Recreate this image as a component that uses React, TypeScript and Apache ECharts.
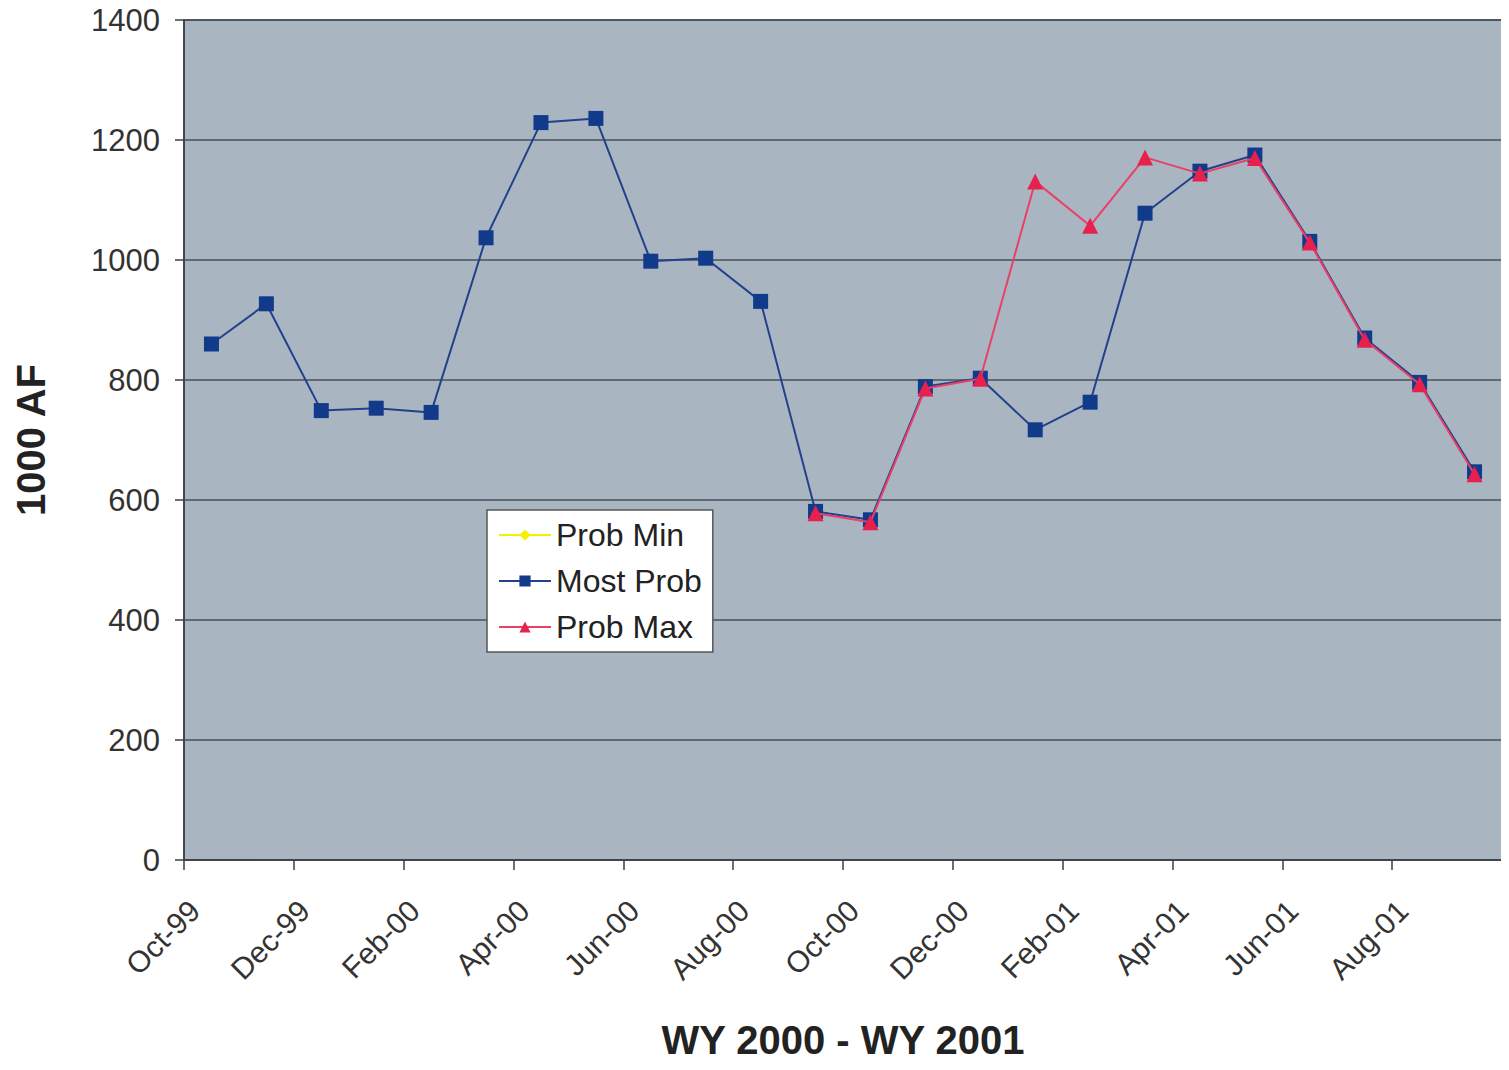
import React, { useEffect, useRef } from "react";
import * as echarts from "echarts";

const months = [
  "Oct-99", "Nov-99", "Dec-99", "Jan-00", "Feb-00", "Mar-00", "Apr-00", "May-00",
  "Jun-00", "Jul-00", "Aug-00", "Sep-00", "Oct-00", "Nov-00", "Dec-00", "Jan-01",
  "Feb-01", "Mar-01", "Apr-01", "May-01", "Jun-01", "Jul-01", "Aug-01", "Sep-01",
];

const tickLabels = [
  "Oct-99", "Dec-99", "Feb-00", "Apr-00", "Jun-00", "Aug-00",
  "Oct-00", "Dec-00", "Feb-01", "Apr-01", "Jun-01", "Aug-01",
];

const probMin: (number | null)[] = [
  null, null, null, null, null, null, null, null, null, null, null, null,
  null, null, null, null, null, null, null, null, null, null, null, null,
];

const mostProb: (number | null)[] = [
  860, 927, 749, 753, 746, 1037, 1229, 1236, 998, 1003, 931, 581,
  567, 789, 803, 717, 763, 1078, 1148, 1175, 1031, 870, 796, 647,
];

const probMax: (number | null)[] = [
  null, null, null, null, null, null, null, null, null, null, null, 578,
  563, 786, 802, 1131, 1057, 1171, 1144, 1170, 1029, 867, 793, 643,
];

const toPoints = (vals: (number | null)[]) =>
  months.map((m, i) => [i + 0.5, vals[i]]);

export default function App() {
  const ref = useRef<HTMLDivElement>(null);

  useEffect(() => {
    if (!ref.current) return;
    const chart = echarts.init(ref.current, undefined, { renderer: "svg" });
    const font = "'Liberation Sans', Arial, sans-serif";
    chart.setOption({
      animation: false,
      textStyle: { fontFamily: font },
      grid: {
        left: 184,
        right: 7,
        top: 20,
        bottom: 210,
        show: true,
        backgroundColor: "#a9b6c2",
        borderColor: "#3a3f44",
        borderWidth: 1.5,
      },
      legend: {
        orient: "vertical",
        left: 487,
        top: 510,
        padding: [9, 11, 9, 11],
        backgroundColor: "#ffffff",
        borderColor: "#555",
        borderWidth: 1.5,
        itemWidth: 52,
        itemHeight: 14,
        itemGap: 14,
        textStyle: { fontSize: 32, color: "#222", fontFamily: font },
        data: ["Prob Min", "Most Prob", "Prob Max"],
      },
      xAxis: {
        type: "value",
        min: 0,
        max: months.length,
        interval: 2,
        axisLine: { show: true, lineStyle: { color: "#3a3f44", width: 1.5 } },
        axisTick: { show: true, length: 10, lineStyle: { color: "#3a3f44", width: 1.5 } },
        splitLine: { show: false },
        axisLabel: {
          rotate: 45,
          margin: 35,
          verticalAlign: "top",
          fontSize: 30,
          color: "#333",
          fontFamily: font,
          formatter: (v: number) => tickLabels[Math.round(v / 2)] ?? "",
        },
        name: "WY 2000 - WY 2001",
        nameLocation: "middle",
        nameGap: 160,
        nameTextStyle: { fontSize: 40, fontWeight: "bold", color: "#222", fontFamily: font },
      },
      yAxis: {
        type: "value",
        min: 0,
        max: 1400,
        interval: 200,
        axisLine: { show: true, lineStyle: { color: "#3a3f44", width: 1.5 } },
        axisTick: { show: true, length: 9, lineStyle: { color: "#3a3f44", width: 1.5 } },
        splitLine: { show: true, lineStyle: { color: "#4a5158", width: 1.5 } },
        axisLabel: {
          fontSize: 31,
          color: "#333",
          margin: 24,
          fontFamily: font,
          formatter: (v: number) => String(v),
        },
        name: "1000 AF",
        nameLocation: "middle",
        nameGap: 133,
        nameTextStyle: { fontSize: 40, fontWeight: "bold", color: "#222", fontFamily: font },
      },
      series: [
        {
          name: "Prob Min",
          type: "line",
          data: toPoints(probMin),
          symbol: "diamond",
          symbolSize: 14,
          lineStyle: { color: "#f4f000", width: 2 },
          itemStyle: { color: "#f4f000" },
          z: 2,
        },
        {
          name: "Most Prob",
          type: "line",
          data: toPoints(mostProb),
          symbol: "rect",
          symbolSize: 15,
          showAllSymbol: true,
          lineStyle: { color: "#22408c", width: 2 },
          itemStyle: { color: "#123a8a" },
          z: 3,
        },
        {
          name: "Prob Max",
          type: "line",
          data: toPoints(probMax),
          symbol: "triangle",
          symbolSize: 16,
          showAllSymbol: true,
          lineStyle: { color: "#ea3f66", width: 2 },
          itemStyle: { color: "#e8204e" },
          z: 4,
        },
      ],
    });
    return () => chart.dispose();
  }, []);

  return <div ref={ref} style={{ width: 1509, height: 1070, margin: -8 }} />;
}
